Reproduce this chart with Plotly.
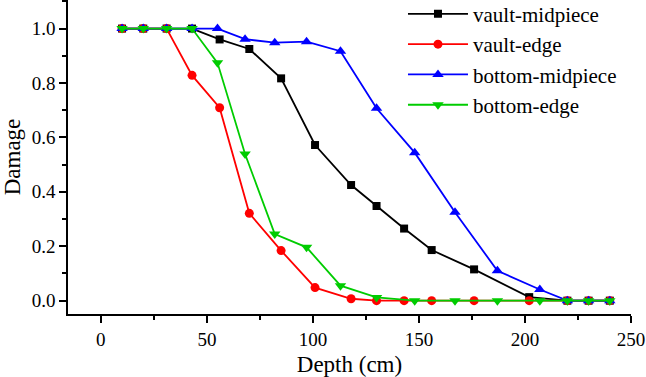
import plotly.graph_objects as go

# ---- data ----
vm_x = [10, 20, 31, 43, 56, 70, 85, 101, 118, 130, 143, 156, 176, 202, 220, 230, 240]
vm_y = [1.0, 1.0, 1.0, 1.0, 0.960, 0.925, 0.817, 0.572, 0.425, 0.348, 0.265, 0.186, 0.115, 0.013, 0.0, 0.0, 0.0]

ve_x = [10, 20, 31, 43, 56, 70, 85, 101, 118, 130, 143, 156, 176, 202, 220, 230, 240]
ve_y = [1.0, 1.0, 1.0, 0.828, 0.709, 0.321, 0.184, 0.048, 0.007, 0.0, 0.0, 0.0, 0.0, 0.0, 0.0, 0.0, 0.0]

bm_x = [10, 20, 31, 43, 55, 68, 82, 97, 113, 130, 148, 167, 187, 207, 220, 230, 240]
bm_y = [1.0, 1.0, 1.0, 1.0, 1.0, 0.961, 0.948, 0.952, 0.917, 0.707, 0.544, 0.325, 0.110, 0.041, 0.0, 0.0, 0.0]

be_x = [10, 20, 31, 43, 55, 68, 82, 97, 113, 130, 148, 167, 187, 207, 220, 230, 240]
be_y = [1.0, 1.0, 1.0, 1.0, 0.874, 0.539, 0.245, 0.196, 0.055, 0.012, 0.0, 0.0, 0.0, 0.0, 0.0, 0.0, 0.0]

names = ["vault-midpiece", "vault-edge", "bottom-midpiece", "bottom-edge"]
x_ticks = [0, 50, 100, 150, 200, 250]
y_ticks = [0.0, 0.2, 0.4, 0.6, 0.8, 1.0]

FONT = "Liberation Serif"

fig = go.Figure()
series = [
    (vm_x, vm_y, names[0], "#000000", "square", 8),
    (ve_x, ve_y, names[1], "#ff0000", "circle", 9),
    (bm_x, bm_y, names[2], "#0000ff", "triangle-up", 10),
    (be_x, be_y, names[3], "#00cc00", "triangle-down", 10),
]
for xs, ys, nm, col, sym, sz in series:
    fig.add_trace(go.Scatter(
        x=xs, y=ys, name=nm, mode="lines+markers",
        line=dict(color=col, width=1.8),
        marker=dict(color=col, symbol=sym, size=sz, line=dict(width=0)),
    ))

axis_common = dict(
    showgrid=False, zeroline=False, showline=True, linecolor="black", linewidth=1.5,
    ticks="outside", tickcolor="black", tickwidth=1.5, ticklen=7,
    tickfont=dict(family=FONT, size=19, color="black"),
    automargin=False,
)

fig.update_layout(
    width=646, height=377,
    margin=dict(l=68, r=15, t=0, b=63, autoexpand=False),
    paper_bgcolor="white", plot_bgcolor="white",
    font=dict(family=FONT, color="black"),
    showlegend=True,
    legend=dict(
        x=0.595, y=1.02, xanchor="left", yanchor="top",
        bgcolor="rgba(0,0,0,0)", borderwidth=0,
        font=dict(family=FONT, size=21, color="black"),
        itemwidth=60, tracegroupgap=0,
    ),
    xaxis=dict(
        range=[-15.5, 250], tickvals=x_ticks,
        ticktext=[str(v) for v in x_ticks],
        minor=dict(dtick=25, ticks="outside", ticklen=4, tickcolor="black", tickwidth=1.5),
        title=dict(text="Depth (cm)", font=dict(family=FONT, size=23, color="black")),
        **axis_common,
    ),
    yaxis=dict(
        range=[-0.049, 1.105], tickvals=y_ticks,
        ticktext=[f"{v:.1f}" for v in y_ticks],
        minor=dict(dtick=0.1, ticks="outside", ticklen=4, tickcolor="black", tickwidth=1.5),
        title=dict(text="Damage", font=dict(family=FONT, size=23, color="black")),
        **axis_common,
    ),
)

fig.write_html(
    "out.html",
    config={"displayModeBar": False},
    post_script="document.body.style.margin='0px'; document.body.style.overflow='hidden';",
)
